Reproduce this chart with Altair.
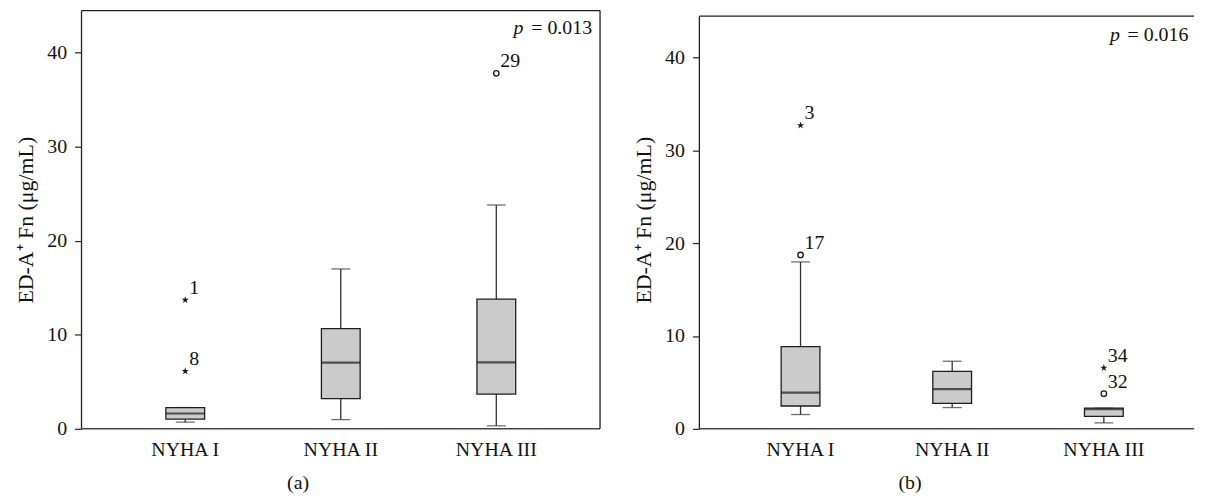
import altair as alt
import pandas as pd

FONT = "Liberation Serif"
groups = ["NYHA I", "NYHA II", "NYHA III"]

# Panel (a)
a_lo = [0.71, 0.98, 0.32]
a_q1 = [1.02, 3.20, 3.69]
a_med = [1.63, 7.04, 7.07]
a_q3 = [2.26, 10.66, 13.79]
a_hi = [2.26, 17.00, 23.80]
a_out_grp = ["NYHA I", "NYHA I", "NYHA III"]
a_out_val = [13.7, 6.13, 37.8]
a_out_kind = ["star", "star", "circle"]
a_out_lab = ["1", "8", "29"]
a_p = "= 0.013"

# Panel (b)
b_lo = [1.54, 2.29, 0.64]
b_q1 = [2.46, 2.75, 1.33]
b_med = [3.90, 4.28, 2.11]
b_q3 = [8.85, 6.18, 2.22]
b_hi = [17.98, 7.28, 2.22]
b_out_grp = ["NYHA I", "NYHA I", "NYHA III", "NYHA III"]
b_out_val = [32.7, 18.73, 6.57, 3.79]
b_out_kind = ["star", "circle", "star", "circle"]
b_out_lab = ["3", "17", "34", "32"]
b_p = "= 0.016"

YTITLE = "ED-A\u207a Fn (\u03bcg/mL)"
STAR = ("M0,-1L0.2245,-0.309L0.9511,-0.309L0.3633,0.118L0.5878,0.809L0,0.382"
        "L-0.5878,0.809L-0.3633,0.118L-0.9511,-0.309L-0.2245,-0.309Z")
INK = "#1e1e1e"


def panel(lo, q1, med, q3, hi, og, ov, ok, ol, ptxt, caption, W, H, ytop, xspan,
          p_right, p_base, cap_x, frame_top, right_border):
    stats = pd.DataFrame({"g": groups, "lo": lo, "q1": q1, "med": med, "q3": q3, "hi": hi})
    outs = pd.DataFrame({"g": og, "v": ov, "kind": ok, "lab": ol})

    xenc = alt.X("g:N", scale=alt.Scale(domain=groups, paddingInner=0, paddingOuter=0.167,
                                        range=[0, xspan]),
                 axis=alt.Axis(title=None, labelAngle=0, ticks=False, grid=False, labelFont=FONT,
                               labelFontSize=20, labelColor="#111", labelPadding=11,
                               domain=False))
    yscale = alt.Scale(domain=[0, ytop], nice=False, zero=True)
    yaxis = alt.Axis(values=[0, 10, 20, 30, 40], tickSize=7, tickColor="#222", tickWidth=1.2,
                     labelFont=FONT, labelFontSize=20, labelColor="#111", labelPadding=8,
                     title=YTITLE, titleFont=FONT, titleFontSize=22, titleFontWeight="normal",
                     titleColor="#111", titlePadding=9, grid=False, domain=False)

    base = alt.Chart(stats)
    whisk = base.mark_rule(color="#333", strokeWidth=1.3).encode(
        x=xenc, y=alt.Y("lo:Q", scale=yscale, axis=yaxis), y2="hi:Q")
    cap_lo = base.mark_tick(color="#333", size=19, thickness=1.3).encode(
        x=xenc, y=alt.Y("lo:Q", scale=yscale, axis=yaxis))
    cap_hi = base.mark_tick(color="#333", size=19, thickness=1.3).encode(
        x=xenc, y=alt.Y("hi:Q", scale=yscale, axis=yaxis))
    box = base.mark_bar(size=39, fill="#cbcbcb", stroke=INK, strokeWidth=1.3).encode(
        x=xenc, y=alt.Y("q1:Q", scale=yscale, axis=yaxis), y2="q3:Q")
    medm = base.mark_tick(color="#1a1a1a", size=39, thickness=2.2).encode(
        x=xenc, y=alt.Y("med:Q", scale=yscale, axis=yaxis))

    ob = alt.Chart(outs)
    circ = ob.transform_filter(alt.datum.kind == "circle").mark_point(
        shape="circle", filled=False, color="#1a1a1a", strokeWidth=1.3, size=30, opacity=1).encode(
        x=xenc, y=alt.Y("v:Q", scale=yscale, axis=yaxis))
    star = ob.transform_filter(alt.datum.kind == "star").mark_point(
        shape=STAR, filled=True, color="#1a1a1a", size=60, opacity=1).encode(
        x=xenc, y=alt.Y("v:Q", scale=yscale, axis=yaxis))
    labs = ob.mark_text(font=FONT, fontSize=20, color="#111", align="left", baseline="alphabetic",
                        dx=4, dy=-6).encode(x=xenc, y=alt.Y("v:Q", scale=yscale, axis=yaxis),
                                            text="lab:N")

    pdf = pd.DataFrame({"t": [ptxt]})
    p_eq = alt.Chart(pdf).mark_text(font=FONT, fontSize=20, color="#111", align="right",
                                    baseline="alphabetic").encode(
        x=alt.value(W - p_right), y=alt.value(p_base), text="t:N")
    p_it = alt.Chart(pdf).mark_text(font=FONT, fontSize=20, fontStyle="italic", color="#111",
                                    align="right", baseline="alphabetic").encode(
        x=alt.value(W - p_right - 69), y=alt.value(p_base), text=alt.value("p"))
    cdf = pd.DataFrame({"t": [caption]})
    cap = alt.Chart(cdf).mark_text(font=FONT, fontSize=20, color="#111", align="center",
                                   baseline="alphabetic").encode(
        x=alt.value(cap_x), y=alt.value(H + 61), text="t:N")

    fr = alt.Chart(cdf)
    xr = W if right_border else W + 1
    top = fr.mark_rule(color=INK, strokeWidth=1.3).encode(
        x=alt.value(0), x2=alt.value(xr), y=alt.value(frame_top))
    left = fr.mark_rule(color=INK, strokeWidth=1.3).encode(
        x=alt.value(0), y=alt.value(frame_top), y2=alt.value(H))
    bottom = fr.mark_rule(color="#444", strokeWidth=1.5).encode(
        x=alt.value(0), x2=alt.value(xr), y=alt.value(H))

    layers = [whisk, cap_lo, cap_hi, box, medm, circ, star, labs, p_eq, p_it, cap,
              top, left, bottom]
    if right_border:
        right = fr.mark_rule(color=INK, strokeWidth=1.3).encode(
            x=alt.value(W), y=alt.value(frame_top), y2=alt.value(H))
        layers.append(right)
    return alt.layer(*layers).properties(
        width=W, height=H,
        view=alt.ViewBackground(stroke="transparent", strokeOpacity=0, strokeWidth=0))


pa = panel(a_lo, a_q1, a_med, a_q3, a_hi, a_out_grp, a_out_val, a_out_kind, a_out_lab, a_p,
           "(a)", 522, 421, 44.47, 522, 8, 24, 218, 0, True)
pb = panel(b_lo, b_q1, b_med, b_q3, b_hi, b_out_grp, b_out_val, b_out_kind, b_out_lab, b_p,
           "(b)", 497, 421, 45.06, 509, 4.7, 30.6, 212, 5.6, False)

chart = alt.hconcat(pa, pb, spacing=32).properties(
    padding={"left": 7, "top": 0, "right": 0, "bottom": 0}
).configure_view(stroke="transparent", strokeOpacity=0, strokeWidth=0).configure(font=FONT)

chart.save("out.html", embed_options={"renderer": "svg", "actions": False})
